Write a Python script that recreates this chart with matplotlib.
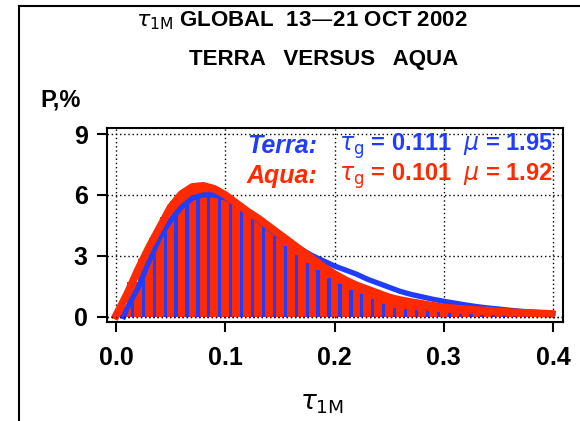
import matplotlib.pyplot as plt
from matplotlib.lines import Line2D

plt.rcParams['font.family'] = ['Liberation Sans', 'DejaVu Sans']
plt.rcParams['mathtext.fontset'] = 'dejavusans'

BLUE = '#1f3cff'
RED = '#ff2a00'

# histogram bins (centres), P in %
bin_tau = [0.005, 0.015, 0.025, 0.035, 0.045, 0.055, 0.065, 0.075, 0.085, 0.095,
           0.105, 0.115, 0.125, 0.135, 0.145, 0.155, 0.165, 0.175, 0.185, 0.195,
           0.205, 0.215, 0.225, 0.235, 0.245, 0.255, 0.265, 0.275, 0.285, 0.295,
           0.305, 0.315, 0.325, 0.335, 0.345, 0.355, 0.365, 0.375, 0.385, 0.395]
terra_bars = [0.1, 0.9, 2.0, 3.3, 4.3, 5.1, 5.6, 5.9, 6.0, 5.9,
              5.7, 5.4, 5.0, 4.5, 4.0, 3.5, 3.05, 2.65, 2.3, 1.9,
              1.6, 1.3, 1.1, 0.85, 0.62, 0.45, 0.4, 0.35, 0.3, 0.25,
              0.2, 0.15, 0.12, 0.1, 0.08, 0.06, 0.05, 0.04, 0.03, 0.02]
aqua_bars = [0.5, 1.7, 2.85, 3.9, 4.9, 5.7, 6.2, 6.4, 6.35, 6.15,
             5.8, 5.4, 5.0, 4.65, 4.25, 3.85, 3.45, 3.05, 2.65, 2.25,
             1.95, 1.68, 1.45, 1.25, 1.07, 0.9, 0.77, 0.67, 0.58, 0.5,
             0.44, 0.39, 0.35, 0.31, 0.28, 0.25, 0.22, 0.19, 0.17, 0.15]

# fitted lognormal curves
terra_tau = [0.007, 0.01, 0.02, 0.03, 0.04, 0.05, 0.06, 0.07, 0.08, 0.09, 0.10,
             0.11, 0.12, 0.13, 0.14, 0.15, 0.16, 0.17, 0.18, 0.19, 0.20,
             0.21, 0.22, 0.23, 0.24, 0.25, 0.26, 0.27, 0.28, 0.29, 0.30,
             0.31, 0.32, 0.33, 0.34, 0.35, 0.36, 0.37, 0.38, 0.39, 0.40]
terra_fit = [0.0, 0.4, 1.4, 2.7, 3.9, 4.75, 5.4, 5.85, 6.0, 6.0, 5.85,
             5.6, 5.2, 4.75, 4.35, 3.95, 3.6, 3.3, 3.0, 2.75, 2.5,
             2.3, 2.1, 1.85, 1.65, 1.45, 1.25, 1.1, 0.98, 0.86, 0.76,
             0.67, 0.58, 0.5, 0.43, 0.38, 0.32, 0.27, 0.23, 0.19, 0.16]
aqua_tau = [0.0, 0.01, 0.02, 0.03, 0.04, 0.05, 0.06, 0.07, 0.08, 0.09, 0.10,
            0.11, 0.12, 0.13, 0.14, 0.15, 0.16, 0.17, 0.18, 0.19, 0.20,
            0.21, 0.22, 0.23, 0.24, 0.25, 0.26, 0.27, 0.28, 0.29, 0.30,
            0.31, 0.32, 0.33, 0.34, 0.35, 0.36, 0.37, 0.38, 0.39, 0.398]
aqua_fit = [0.05, 1.1, 2.3, 3.4, 4.4, 5.4, 6.05, 6.4, 6.45, 6.3, 6.0,
            5.6, 5.2, 4.85, 4.45, 4.05, 3.65, 3.25, 2.85, 2.45, 2.1,
            1.8, 1.55, 1.35, 1.15, 0.95, 0.82, 0.72, 0.63, 0.54, 0.46,
            0.41, 0.37, 0.33, 0.3, 0.26, 0.23, 0.2, 0.18, 0.16, 0.14]

xticks = [0.0, 0.1, 0.2, 0.3, 0.4]
yticks = [0, 3, 6, 9]

fig = plt.figure(figsize=(5.8, 4.21), dpi=100)
ax = fig.add_axes([0.1845, 0.2352, 0.7862, 0.4608])

ax.bar(bin_tau, aqua_bars, width=0.0102, color=RED, lw=0, zorder=2)
ax.bar(bin_tau, terra_bars, width=0.003, color=BLUE, lw=0, zorder=3)
ax.plot(terra_tau, terra_fit, color=BLUE, lw=3.8, zorder=4)
ax.plot(aqua_tau, aqua_fit, color=RED, lw=5.5, zorder=5)
ax.axhline(0, color='black', lw=1.0, ls=(0, (1, 2)), zorder=6)

ax.set_xlim(-0.0082, 0.4091)
ax.set_ylim(-0.26, 9.3)
ax.set_xticks(xticks)
ax.set_xticklabels(['%.1f' % v for v in xticks])
ax.set_yticks(yticks)
ax.grid(True, color='black', ls=(0, (1, 2)), lw=1.0, zorder=1)
ax.set_axisbelow(True)
ax.tick_params(direction='out', length=7, width=1.5, labelsize=18, pad=7)
ax.tick_params(axis='x', pad=10)
for lab in ax.get_xticklabels() + ax.get_yticklabels():
    lab.set_fontweight('bold')
for s in ax.spines.values():
    s.set_linewidth(1.5)

ax.text(0.184, 8.4, 'Terra:', color=BLUE, fontsize=18, fontweight='bold',
        style='italic', ha='right', va='center')
ax.text(0.4, 8.4, r'$\tau_{\rm g}$ = 0.111  $\mu$ = 1.95', color=BLUE, fontsize=17,
        fontweight='bold', ha='right', va='center')
ax.text(0.184, 6.93, 'Aqua:', color=RED, fontsize=18, fontweight='bold',
        style='italic', ha='right', va='center')
ax.text(0.4, 6.93, r'$\tau_{\rm g}$ = 0.101  $\mu$ = 1.92', color=RED, fontsize=17,
        fontweight='bold', ha='right', va='center')

fig.text(0.52, 1 - 21 / 421, r'$\tau_{\rm 1M}$ GLOBAL  13—21 OCT 2002', fontsize=16,
         fontweight='bold', ha='center', va='center')
fig.text(0.558, 1 - 59 / 421, 'TERRA   VERSUS   AQUA', fontsize=16,
         fontweight='bold', ha='center', va='center')
fig.text(40 / 580, 1 - 100 / 421, 'P,%', fontsize=17, fontweight='bold',
         ha='left', va='center')
fig.text(322 / 580, 1 - 404 / 421, r'$\tau_{\rm 1M}$', fontsize=19,
         ha='center', va='center')

# outer frame (top and left only)
fig.add_artist(Line2D([19 / 580, 19 / 580], [0, 1 - 5.5 / 421], color='black', lw=1.5,
                      transform=fig.transFigure))
fig.add_artist(Line2D([19 / 580, 1], [1 - 5.5 / 421, 1 - 5.5 / 421], color='black', lw=1.5,
                      transform=fig.transFigure))

fig.savefig('out.png', dpi=100)
